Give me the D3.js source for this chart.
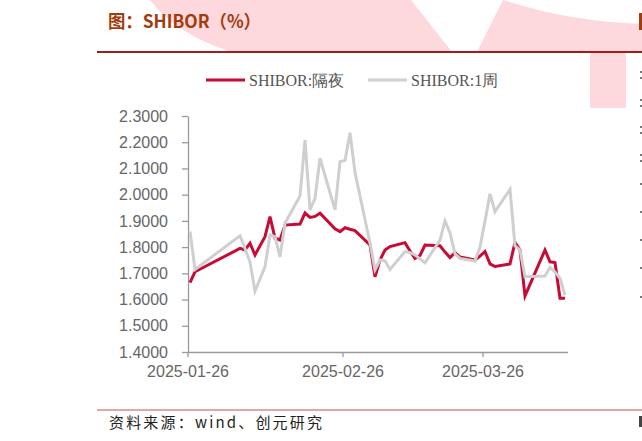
<!DOCTYPE html>
<html><head><meta charset="utf-8">
<script src="https://cdn.jsdelivr.net/npm/d3@7"></script>
<style>html,body{margin:0;padding:0;background:#fff;overflow:hidden} svg{display:block}</style>
</head><body><div id="chart"></div>
<script>
const dates = ["2025-01-26","2025-01-27","2025-02-05","2025-02-06","2025-02-07","2025-02-08","2025-02-10","2025-02-11","2025-02-12","2025-02-13","2025-02-14","2025-02-17","2025-02-18","2025-02-19","2025-02-20","2025-02-21","2025-02-24","2025-02-25","2025-02-26","2025-02-27","2025-02-28","2025-03-03","2025-03-04","2025-03-05","2025-03-06","2025-03-07","2025-03-10","2025-03-11","2025-03-12","2025-03-13","2025-03-14","2025-03-17","2025-03-18","2025-03-19","2025-03-20","2025-03-21","2025-03-24","2025-03-25","2025-03-26","2025-03-27","2025-03-28","2025-03-31","2025-04-01","2025-04-02","2025-04-03","2025-04-07","2025-04-08","2025-04-09","2025-04-10","2025-04-11"];
const overnight = [1.665,1.706,1.795,1.789,1.815,1.770,1.840,1.916,1.834,1.827,1.884,1.888,1.930,1.913,1.917,1.929,1.870,1.859,1.874,1.868,1.863,1.808,1.687,1.751,1.789,1.802,1.817,1.785,1.757,1.768,1.808,1.805,1.781,1.760,1.779,1.762,1.751,1.766,1.783,1.736,1.726,1.736,1.818,1.790,1.614,1.789,1.744,1.741,1.605,1.605];
const week1 = [1.860,1.715,1.843,1.795,1.743,1.632,1.725,1.846,1.840,1.763,1.891,1.995,2.209,1.942,1.986,2.139,1.942,2.126,2.130,2.236,2.085,1.815,1.713,1.751,1.748,1.715,1.783,1.779,1.770,1.755,1.740,1.827,1.900,1.854,1.774,1.757,1.747,1.800,1.900,2.003,1.935,2.020,1.804,1.790,1.687,1.690,1.723,1.705,1.681,1.617];
const seriesNames = ["SHIBOR:隔夜","SHIBOR:1周"];
const seriesColors = ["#c70b35","#cfcfcf"];
const yTicks = [1.4,1.5,1.6,1.7,1.8,1.9,2.0,2.1,2.2,2.3];
const xTickDates = ["2025-01-26","2025-02-26","2025-03-26"];
const titleText = "图：SHIBOR（%）";
const sourceText = "资料来源：wind、创元研究";

const W = 642, H = 441;
const parse = d3.timeParse("%Y-%m-%d");
const svg = d3.select("#chart").append("svg").attr("width", W).attr("height", H);

// background watermark
const pink = "#fdd8dc";
svg.append("path").attr("d","M150,0 Q175,34 232,52 L452,52 L411,0 Z").attr("fill",pink);
svg.append("path").attr("d","M503,0 Q570,22 642,24 L642,52 L477,52 Z").attr("fill",pink);
svg.append("rect").attr("x",590).attr("y",52).attr("width",36).attr("height",56).attr("fill",pink);

// title
svg.append("text").attr("x",108).attr("y",28).text(titleText)
  .attr("font-family","'Noto Sans CJK SC','Noto Sans',sans-serif").attr("font-weight","bold")
  .attr("font-size",18).attr("fill","#a43b0e")
  .attr("textLength",153).attr("lengthAdjust","spacingAndGlyphs");
svg.append("line").attr("x1",97).attr("x2",W).attr("y1",52).attr("y2",52)
  .attr("stroke","#a01d1d").attr("stroke-width",2);

// scales
const x = d3.scaleTime().domain([parse("2025-01-26"), parse("2025-04-12")]).range([187.5, 567.5]);
const y = d3.scaleLinear().domain([1.4, 2.3]).range([352, 116]);

const axisFont = "'Liberation Sans',Arial,Helvetica,sans-serif";
const gy = svg.append("g").attr("transform","translate(188,0)")
  .call(d3.axisLeft(y).tickValues(yTicks).tickFormat(d3.format(".4f")).tickSize(6).tickSizeOuter(0).tickPadding(14));
const gx = svg.append("g").attr("transform","translate(0,352)")
  .call(d3.axisBottom(x).tickValues(xTickDates.map(parse)).tickFormat(d3.timeFormat("%Y-%m-%d")).tickSize(5).tickSizeOuter(0).tickPadding(9));
[gx, gy].forEach(g => {
  g.select(".domain").attr("stroke","#9a9a9a").attr("stroke-width",1.3);
  g.selectAll(".tick line").attr("stroke","#9a9a9a").attr("stroke-width",1.3);
  g.selectAll(".tick text").attr("fill","#666").attr("font-size",16).attr("font-family",axisFont);
});

// lines
const pts = vals => vals.map((v,i) => [d3.timeHour.offset(parse(dates[i]),12), v]);
const line = d3.line().x(d => x(d[0])).y(d => y(d[1]));
[overnight, week1].forEach((vals, k) => {
  svg.append("path").datum(pts(vals)).attr("d", line)
    .attr("fill","none").attr("stroke", seriesColors[k]).attr("stroke-width",3)
    .attr("stroke-linejoin","miter").attr("stroke-miterlimit",4);
});

// legend
const legX = [206, 368];
seriesNames.forEach((name,k) => {
  svg.append("line").attr("x1",legX[k]).attr("x2",legX[k]+39).attr("y1",80).attr("y2",80)
    .attr("stroke",seriesColors[k]).attr("stroke-width",3);
  svg.append("text").attr("x",legX[k]+43).attr("y",86).text(name)
    .attr("font-family","'Liberation Serif','Times New Roman',serif").attr("font-size",16).attr("fill","#555");
});

// edge slivers of the neighbouring chart (drawn as small marks)
svg.append("rect").attr("x",639).attr("y",13).attr("width",3).attr("height",17).attr("fill","#a43b0e");
const fragY = [72,100,127,155,184,212,240,268,297];
fragY.forEach((fy,i) => {
  svg.append("rect").attr("x",640).attr("y",fy-1).attr("width",2).attr("height",2).attr("fill","#777");
  if (i < 4) svg.append("rect").attr("x",640).attr("y",fy+5).attr("width",2).attr("height",2).attr("fill","#777");
});
svg.append("rect").attr("x",639).attr("y",416).attr("width",3).attr("height",11).attr("fill","#444");

// footer
svg.append("line").attr("x1",97).attr("x2",W).attr("y1",410).attr("y2",410)
  .attr("stroke","#d98a8a").attr("stroke-width",1.3);
svg.append("text").attr("x",109).attr("y",428).text(sourceText)
  .attr("font-family","'Noto Sans CJK SC',sans-serif").attr("font-size",15).attr("fill","#222")
  .attr("textLength",213).attr("lengthAdjust","spacing");
</script>
</body></html>
